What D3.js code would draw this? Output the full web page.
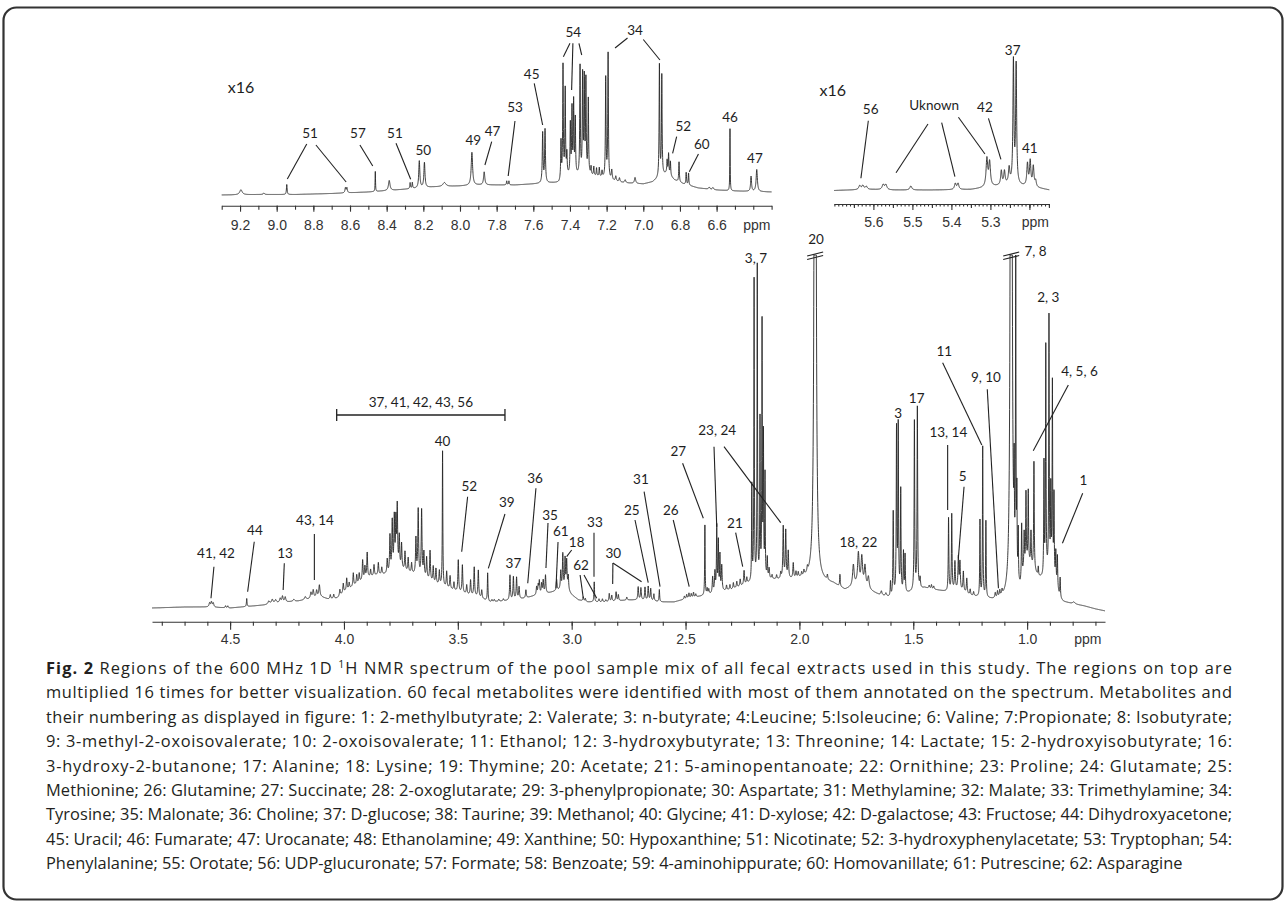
<!DOCTYPE html>
<html>
<head>
<meta charset="utf-8">
<script src="https://cdn.jsdelivr.net/npm/d3@7"></script>
<style>
body{margin:0;background:#fff;}
svg{display:block;}
text{white-space:pre;}
</style>
</head>
<body>
<svg id="fig" width="1287" height="906"></svg>
<script>
// Spectrum values. Peaks are [ppm, height above baseline, half width (ppm)],
// baselines are [ppm, height]. Heights of the main panel are in px above its zero line.

// main panel 4.84 - 0.66 ppm
var mainBase = [[4.843,4],[4.7,5],[4.6,5],[4.5,4],[4.45,5],[4.4,6],[4.35,7],[4.3,9],[4.2,11],[4.15,13],
  [4.1,15],[4.07,13],[4.03,14],[4.0,20],[3.95,27],[3.9,34],[3.85,37],[3.8,38],[3.75,42],[3.7,38],
  [3.65,34],[3.6,28],[3.55,24],[3.5,20],[3.45,17],[3.4,14],[3.36,10],[3.3,11],[3.25,12],[3.2,14],
  [3.15,17],[3.1,19],[3.05,22],[3.02,22],[3.0,17],[2.97,12],[2.93,10],[2.85,10],[2.8,11],[2.75,12],
  [2.7,12],[2.65,11],[2.6,10],[2.55,10],[2.5,13],[2.45,15],[2.4,17],[2.35,20],[2.3,22],[2.25,26],
  [2.2,30],[2.15,32],[2.1,32],[2.05,32],[2.0,33],[1.97,33],[1.9,30],[1.85,28],[1.8,22],[1.75,26],
  [1.7,22],[1.65,17],[1.6,14],[1.55,17],[1.5,20],[1.45,24],[1.4,22],[1.35,20],[1.3,22],[1.25,16],
  [1.2,14],[1.15,12],[1.1,12],[1.08,12],[1.04,18],[1.03,20],[1.015,38],[1.0,46],[0.985,46],[0.97,40],
  [0.95,34],[0.93,33],[0.91,38],[0.89,38],[0.875,28],[0.86,16],[0.85,12],[0.84,10],[0.8,8],[0.75,6],
  [0.7,3],[0.658,1]];

var mainPeaks = [
  [4.590,4,.003],[4.582,5,.003],[4.574,4,.003],[4.520,2,.002],[4.510,2,.002],[4.427,8,.0015],
  [4.330,3,.004],[4.315,4,.004],[4.300,3,.004],[4.280,4,.003],[4.270,6,.003],[4.258,5,.003],
  [4.220,2,.004],[4.170,3,.004],[4.145,6,.003],[4.135,8,.003],[4.120,7,.003],[4.108,12,.003],
  [4.060,4,.002],[4.045,4,.002],
  [4.018,6,.002],[4.003,9,.002],[3.988,12,.002],[3.977,6,.002],[3.959,13,.002],[3.944,9,.002],
  [3.933,9,.002],[3.918,20,.002],[3.908,12,.002],[3.898,25,.002],[3.883,7,.002],[3.868,11,.002],
  [3.849,12,.002],[3.834,7,.002],[3.810,14,.002],[3.798,37,.002],[3.788,50,.002],[3.779,52,.002],
  [3.772,48,.002],[3.766,62,.002],[3.757,32,.002],[3.747,25,.002],[3.732,19,.002],[3.718,14,.002],
  [3.703,10,.002],[3.684,36,.002],[3.674,66,.002],[3.659,66,.002],[3.649,24,.002],[3.637,21,.002],
  [3.622,30,.002],[3.608,16,.002],[3.596,15,.002],[3.581,14,.002],[3.567,135,.0013],[3.549,16,.002],
  [3.534,13,.002],[3.517,8,.002],[3.498,32,.002],[3.480,28,.002],[3.461,9,.002],[3.444,15,.002],
  [3.428,29,.002],[3.410,27,.002],[3.395,8,.002],[3.369,28,.0015],[3.350,2,.002],[3.340,2,.002],
  [3.320,2,.002],[3.300,2,.002],[3.271,25,.002],[3.256,23,.002],[3.242,22,.002],[3.231,12,.002],
  [3.201,8,.002],[3.154,8,.002],[3.147,9,.002],[3.142,13,.002],[3.132,10,.002],[3.125,13,.002],
  [3.115,18,.002],
  [3.066,11,.002],[3.048,18,.002],[3.039,35,.002],[3.029,30,.002],[3.022,28,.002],[3.015,14,.002],
  [2.949,4,.002],[2.940,3,.002],[2.901,20,.0015],[2.880,3,.002],[2.865,3,.002],[2.850,2,.002],
  [2.835,8,.002],[2.824,6,.002],[2.805,9,.002],[2.795,6,.002],[2.758,3,.002],[2.708,13,.002],
  [2.696,12,.002],[2.678,13,.002],[2.664,14,.002],[2.653,12,.002],[2.639,7,.002],[2.615,12,.0015],
  [2.505,3,.002],[2.495,4,.002],[2.485,5,.002],[2.475,4,.002],[2.465,5,.002],[2.455,3,.002],
  [2.415,70,.0012],[2.405,6,.002],[2.398,5,.002],[2.381,16,.002],[2.371,20,.002],[2.363,65,.0015],
  [2.356,50,.0015],[2.349,35,.0015],[2.341,25,.002],[2.320,5,.002],[2.305,5,.002],[2.290,6,.002],
  [2.275,6,.002],[2.260,7,.002],[2.243,14,.002],[2.231,6,.002],
  [2.209,95,.0012],[2.199,300,.0012],[2.185,313,.0012],[2.173,157,.0012],[2.164,260,.0012],
  [2.158,142,.0012],[2.151,102,.0012],[2.141,20,.0015],[2.133,10,.002],[2.120,4,.002],[2.100,4,.002],
  [2.082,6,.002],[2.071,52,.002],[2.060,48,.002],[2.049,27,.002],[2.027,15,.002],[2.015,6,.002],
  [2.005,5,.002],[1.990,4,.002],[1.980,5,.002],[1.965,5,.002],
  [1.931,3000,.0019],
  [1.877,5,.002],[1.822,12,.0015],[1.763,21,.004],[1.741,32,.004],[1.726,29,.004],[1.712,21,.004],
  [1.697,12,.004],[1.640,4,.003],[1.620,3,.003],
  [1.600,15,.0015],[1.588,85,.0015],[1.5735,165,.0015],[1.566,170,.0015],[1.555,103,.0015],
  [1.543,40,.0015],[1.536,38,.0015],
  [1.495,169,.0015],[1.482,185,.0015],[1.470,10,.002],[1.430,3,.002],[1.420,4,.002],[1.410,3,.002],
  [1.345,73,.0015],[1.331,76,.0015],[1.317,28,.002],[1.302,32,.002],[1.295,27,.002],[1.280,20,.002],
  [1.265,15,.002],[1.250,6,.002],[1.235,4,.002],
  [1.207,76,.0013],[1.195,150,.0013],[1.181,76,.0013],
  [1.140,5,.002],[1.130,6,.002],[1.120,6,.002],[1.110,5,.002],
  [1.070,2500,.0020],[1.057,85,.0012],[1.050,320,.0012],[1.045,80,.0012],[1.039,50,.0012],
  [1.024,55,.0015],[1.013,35,.0015],[1.005,72,.0015],[0.995,72,.0015],[0.983,32,.0015],[0.970,110,.0015],
  [0.951,9,.0015],[0.926,114,.0013],[0.918,232,.0013],[0.904,260,.0013],[0.896,82,.0013],[0.889,188,.0013],
  [0.882,81,.0013],[0.874,30,.0015],[0.867,32,.0015],[0.855,19,.0015],[0.795,2,.006]
];

// aromatic inset 9.3 - 6.3 ppm (x16)
var aroBase = [[9.30,3],[9.1,3.5],[8.9,3.5],[8.7,4.5],[8.5,6],[8.35,8],[8.15,11],[8.0,12],[7.9,13],
  [7.7,13],[7.6,14],[7.5,15],[7.46,15],[7.42,22],[7.36,22],[7.29,22],[7.25,21],[7.22,20],[7.17,17],
  [7.1,15],[7.0,14],[6.95,16],[6.87,25],[6.83,18],[6.78,14],[6.7,10],[6.6,8],[6.5,7],[6.3,6]];

var aroPeaks = [
  [9.195,5,.008],[9.07,1.5,.004],[8.945,10,.0022],[8.625,5,.003],[8.617,5,.003],[8.462,20,.0013],
  [8.386,10,.005],[8.272,6,.002],[8.260,6,.002],[8.222,27,.0035],[8.194,25,.0035],[8.085,4,.01],
  [7.935,33,.0045],[7.868,13,.004],[7.745,4,.002],[7.733,4,.002],[7.549,50,.0025],[7.536,53,.0025],
  [7.449,38,.002],[7.438,112,.002],[7.426,86,.002],[7.417,20,.002],[7.398,50,.002],[7.389,65,.002],
  [7.380,72,.002],[7.371,55,.002],[7.345,108,.002],[7.331,98,.002],[7.322,94,.002],[7.313,93,.002],
  [7.300,75,.002],[7.285,8,.002],[7.270,9,.002],[7.255,8,.002],[7.240,9,.002],[7.225,6,.002],
  [7.205,100,.002],[7.192,125,.002],[7.172,10,.003],[7.150,5,.003],[7.130,4,.003],[7.099,3,.004],
  [7.045,6,.004],[6.912,112,.002],[6.899,100,.002],[6.870,12,.002],[6.862,20,.002],[6.852,14,.002],
  [6.805,20,.002],[6.766,12,.002],[6.753,12,.002],[6.640,2,.004],[6.620,2,.004],[6.527,62,.0012],
  [6.412,15,.003],[6.381,22,.004]
];

// anomeric inset 5.70 - 5.15 ppm (x16)
var anoBase = [[5.701,1.5],[5.66,2],[5.6,2.5],[5.55,2],[5.45,2],[5.35,2.5],[5.32,4],[5.28,6],
  [5.25,8],[5.22,6],[5.18,4],[5.149,2]];

var anoPeaks = [
  [5.635,4,.003],[5.627,4,.003],[5.618,3,.003],[5.575,5,.003],[5.568,5,.003],[5.504,4,.003],
  [5.390,6,.0025],[5.383,6,.0025],[5.309,28,.0025],[5.302,24,.0025],[5.272,14,.002],[5.264,13,.002],
  [5.252,15,.002],[5.241,122,.0015],[5.234,118,.0015],[5.205,22,.002],[5.198,25,.002],[5.190,20,.002],
  [5.184,6,.002]
];

// tick values
var mainMajor = [4.5,4.0,3.5,3.0,2.5,2.0,1.5,1.0];
var mainMinor = d3.range(48, 6, -1).map(function(v){ return v/10; });
var aroMajor = d3.range(92, 65, -2).map(function(v){ return v/10; });
var aroMinor = d3.range(93, 62, -1).map(function(v){ return v/10; });
var anoMajor = [5.6,5.5,5.4,5.3];
var anoMid = [5.65,5.55,5.45,5.35,5.25,5.2,5.15];
var anoMinor = d3.range(570, 514, -1).map(function(v){ return v/100; });

// annotations: [text, ppm, height] and leaders [ppm1, h1, ppm2, h2]
var mainLabels = [["41, 42",4.562,58.7],["44",4.391,82],["13",4.259,58.7],["43, 14",4.127,92],
  ["40",3.567,170.3],["52",3.450,125.3],["39",3.285,109.3],["37",3.256,48.7],["36",3.161,133.7],
  ["35",3.095,97],["61",3.048,80.3],["18",2.978,70],["62",2.959,46.3],["33",2.898,89.3],["30",2.817,59],
  ["25",2.736,102],["31",2.696,133],["26",2.565,102],["27",2.532,160.3],["23, 24",2.361,181.3],
  ["21",2.283,88.7],["3, 7",2.191,354],["20",1.927,372.7],["18, 22",1.741,69.7],["3",1.566,198.7],
  ["17",1.485,214],["13, 14",1.346,179.7],["5",1.283,136],["11",1.364,260.3],["9, 10",1.181,234.7],
  ["7, 8",0.963,360.3],["2, 3",0.907,314.7],["4, 5, 6",0.770,241],["1",0.753,132]];
var mainLeaders = [[4.571,45.3,4.584,13.7],[4.394,70.3,4.423,20.3],[4.262,48.7,4.267,22],[4.130,78,4.130,32],
  [3.457,115.3,3.483,60.3],[3.293,98,3.366,43.7],[3.157,123.7,3.193,28.7],[3.104,89,3.113,44],
  [3.060,70,3.069,23.7],[3.000,62,3.022,55.3],[2.963,37,2.949,13.7],[2.946,37,2.890,13.7],
  [2.902,79.3,2.902,35.3],[2.819,49,2.820,28],[2.819,49,2.693,30.3],[2.722,92,2.664,29.3],
  [2.682,120.3,2.612,25.3],[2.554,92,2.484,25.3],[2.513,148.7,2.422,93.7],[2.375,165.3,2.363,85.3],
  [2.331,165.3,2.082,89.3],[2.280,79.3,2.249,45.3],[1.349,167,1.349,102],[1.277,125.3,1.302,53.7],
  [1.371,249.3,1.199,167],[1.175,222.7,1.126,23.7],[0.819,227,0.973,161.3],[0.756,118.7,0.845,68.7]];
var sugarRange = ["37, 41, 42, 43, 56", 4.032, 3.293, 197];
var breakPeaks = [1.931, 1.070];

var aroLabels = [["51",8.818,65],["57",8.557,65],["51",8.355,65],["50",8.200,48],["49",7.927,58],
  ["47",7.822,66.3],["53",7.700,90.7],["45",7.609,124],["54",7.382,165.7],["34",7.045,167.3],
  ["52",6.782,71.5],["60",6.681,53.7],["46",6.527,80.3],["47",6.391,39.7]];
var aroLeaders = [[8.836,54,8.942,19],[8.786,53,8.621,16],[8.546,53,8.476,32],[8.349,54.7,8.269,18.7],
  [7.827,56.3,7.864,33],[7.700,77,7.737,22],[7.595,114.7,7.549,73],[7.400,154.7,7.436,141.3],
  [7.384,154.7,7.391,108],[7.351,154.7,7.336,143],[7.086,160,7.154,150],[7.000,158.5,6.909,138],
  [6.818,61.3,6.840,44.7],[6.699,44,6.749,26.3]];

var anoLabels = [["56",5.607,83],["Uknown",5.444,87],["42",5.314,84.7],["37",5.243,142],["41",5.199,43.7]];
var anoLeaders = [[5.613,71.3,5.632,13.7],[5.460,68,5.542,19.3],[5.425,69.3,5.391,15.3],
  [5.382,74.7,5.314,38],[5.305,73.7,5.273,32.7]];

var gainText = "x16";

var capTitle = "Fig. 2";
var capLead = " Regions of the 600 MHz 1D ";
var capSup = "1";
var capRest = "H NMR spectrum of the pool sample mix of all fecal extracts used in this study. The regions on top are";
var capLines = [
  "multiplied 16 times for better visualization. 60 fecal metabolites were identified with most of them annotated on the spectrum. Metabolites and",
  "their numbering as displayed in figure: 1: 2-methylbutyrate; 2: Valerate; 3: n-butyrate; 4:Leucine; 5:Isoleucine; 6: Valine; 7:Propionate; 8: Isobutyrate;",
  "9: 3-methyl-2-oxoisovalerate; 10: 2-oxoisovalerate; 11: Ethanol; 12: 3-hydroxybutyrate; 13: Threonine; 14: Lactate; 15: 2-hydroxyisobutyrate; 16:",
  "3-hydroxy-2-butanone; 17: Alanine; 18: Lysine; 19: Thymine; 20: Acetate; 21: 5-aminopentanoate; 22: Ornithine; 23: Proline; 24: Glutamate; 25:",
  "Methionine; 26: Glutamine; 27: Succinate; 28: 2-oxoglutarate; 29: 3-phenylpropionate; 30: Aspartate; 31: Methylamine; 32: Malate; 33: Trimethylamine; 34:",
  "Tyrosine; 35: Malonate; 36: Choline; 37: D-glucose; 38: Taurine; 39: Methanol; 40: Glycine; 41: D-xylose; 42: D-galactose; 43: Fructose; 44: Dihydroxyacetone;",
  "45: Uracil; 46: Fumarate; 47: Urocanate; 48: Ethanolamine; 49: Xanthine; 50: Hypoxanthine; 51: Nicotinate; 52: 3-hydroxyphenylacetate; 53: Tryptophan; 54:",
  "Phenylalanine; 55: Orotate; 56: UDP-glucuronate; 57: Formate; 58: Benzoate; 59: 4-aminohippurate; 60: Homovanillate; 61: Putrescine; 62: Asparagine"
];

var ink = "#262626";
var labelFont = "Lato, 'Open Sans', sans-serif";
var tickFont = "'Liberation Sans', Arial, sans-serif";

var svg = d3.select("#fig");

// rounded frame around the figure
svg.append("rect")
  .attr("x", 3.5).attr("y", 7.5).attr("width", 1279).attr("height", 892).attr("rx", 13)
  .attr("fill", "none").attr("stroke", "#333").attr("stroke-width", 2.2);

// scales of the three panels
var xMain = d3.scaleLinear().domain([4.843, 0.658]).range([152, 1105]);
var yMain = d3.scaleLinear().domain([0, 360]).range([612, 252]);
var xAro = d3.scaleLinear().domain([9.30, 6.30]).range([221.7, 771.6]);
var yAro = d3.scaleLinear().domain([0, 170]).range([198, 28]);
var xAno = d3.scaleLinear().domain([5.701, 5.149]).range([834, 1049.3]);
var yAno = d3.scaleLinear().domain([0, 150]).range([192, 42]);

// sum of lorentzian lines on top of the read baseline
function spectrum(peaks, base, from, to, step, cap) {
  var b = d3.scaleLinear().domain(base.map(function(d){ return d[0]; }))
    .range(base.map(function(d){ return d[1]; })).clamp(true);
  var n = Math.round((from - to) / step), pts = [];
  for (var i = 0; i <= n; i++) {
    var p = from - i * step, v = b(p);
    for (var k = 0; k < peaks.length; k++) {
      var d = p - peaks[k][0], w = peaks[k][2];
      v += peaks[k][1] * w * w / (w * w + d * d);
    }
    if (cap && v > cap) v = cap;
    pts.push([p, v]);
  }
  return pts;
}

function drawCurve(pts, x, y) {
  svg.append("path")
    .datum(pts)
    .attr("fill", "none")
    .attr("stroke", ink)
    .attr("stroke-width", 0.9)
    .attr("stroke-linejoin", "round")
    .attr("d", d3.line().x(function(d){ return x(d[0]); }).y(function(d){ return y(d[1]); }));
}

drawCurve(spectrum(mainPeaks, mainBase, 4.843, 0.658, 0.0004, 357), xMain, yMain);
drawCurve(spectrum(aroPeaks, aroBase, 9.30, 6.30, 0.0005), xAro, yAro);
drawCurve(spectrum(anoPeaks, anoBase, 5.701, 5.149, 0.0002), xAno, yAno);

// axes: short ticks every step, longer labelled ticks
function ppmAxis(x, yPos, minor, minorLen, mid, midLen, major, majorLen, pad, labelled) {
  var g = svg.append("g").attr("transform", "translate(0," + yPos + ")");
  g.append("g").call(d3.axisBottom(x).tickValues(minor).tickSizeInner(minorLen).tickSizeOuter(0).tickFormat(""));
  if (mid) {
    var gm = g.append("g").call(d3.axisBottom(x).tickValues(mid).tickSizeInner(midLen).tickSizeOuter(0).tickFormat(""));
    gm.select(".domain").remove();
  }
  var gM = g.append("g").call(d3.axisBottom(x).tickValues(major).tickSizeInner(majorLen).tickSizeOuter(0)
    .tickPadding(pad).tickFormat(function(d){ return labelled.indexOf(d) >= 0 ? d3.format(".1f")(d) : ""; }));
  gM.select(".domain").remove();
  g.selectAll("path, line").attr("stroke", "#333").attr("stroke-width", 1.1);
  g.selectAll("text").attr("font-family", tickFont).attr("font-size", 14).attr("fill", "#333");
  return g;
}

ppmAxis(xMain, 621.7, mainMinor, 4, null, 0, mainMajor, 8, 4.3, mainMajor);
ppmAxis(xAro, 205.7, aroMinor, 4, null, 0, aroMajor, 6, 8, aroMajor);
ppmAxis(xAno, 204, anoMinor, 2.5, anoMid, 4, anoMajor.concat([5.2]), 6, 7, anoMajor);

// ppm unit labels
var units = [[xMain(0.733), 621.7 + 22.3], [xAro(6.381), 205.7 + 24], [xAno(5.185), 204 + 23]];
svg.selectAll(".unit").data(units).enter().append("text")
  .attr("x", function(d){ return d[0]; }).attr("y", function(d){ return d[1]; })
  .attr("text-anchor", "middle").attr("font-family", tickFont).attr("font-size", 14).attr("fill", "#333")
  .text("ppm");

// leader lines and numbers
function annotate(labels, leaders, x, y) {
  svg.append("g").selectAll("line").data(leaders).enter().append("line")
    .attr("x1", function(d){ return x(d[0]); }).attr("y1", function(d){ return y(d[1]); })
    .attr("x2", function(d){ return x(d[2]); }).attr("y2", function(d){ return y(d[3]); })
    .attr("stroke", "#222").attr("stroke-width", 1.1);
  svg.append("g").selectAll("text").data(labels).enter().append("text")
    .attr("x", function(d){ return x(d[1]); }).attr("y", function(d){ return y(d[2]); })
    .attr("dy", "0.35em").attr("text-anchor", "middle")
    .attr("font-family", labelFont).attr("font-size", 13.5).attr("fill", "#1e1e1e")
    .text(function(d){ return d[0]; });
}
annotate(mainLabels, mainLeaders, xMain, yMain);
annotate(aroLabels, aroLeaders, xAro, yAro);
annotate(anoLabels, anoLeaders, xAno, yAno);

// x16 gain marks
[[xAro(9.195), yAro(111)], [xAno(5.704), yAno(102)]].forEach(function(p){
  svg.append("text").attr("x", p[0]).attr("y", p[1]).attr("dy", "0.35em").attr("text-anchor", "middle")
    .attr("font-family", labelFont).attr("font-size", 16).attr("fill", "#1e1e1e").text(gainText);
});

// bracket over the sugar region
var br = svg.append("g").attr("stroke", "#222").attr("stroke-width", 1.3);
br.append("line").attr("x1", xMain(sugarRange[1])).attr("x2", xMain(sugarRange[2]))
  .attr("y1", yMain(sugarRange[3])).attr("y2", yMain(sugarRange[3]));
[sugarRange[1], sugarRange[2]].forEach(function(p){
  br.append("line").attr("x1", xMain(p)).attr("x2", xMain(p))
    .attr("y1", yMain(sugarRange[3] + 6)).attr("y2", yMain(sugarRange[3] - 6));
});
svg.append("text").attr("x", xMain((sugarRange[1] + sugarRange[2]) / 2)).attr("y", yMain(sugarRange[3] + 12.3))
  .attr("dy", "0.35em").attr("text-anchor", "middle").attr("font-family", labelFont)
  .attr("font-size", 13.5).attr("fill", "#1e1e1e").text(sugarRange[0]);

// break marks on the two cut peaks
breakPeaks.forEach(function(p){
  var cx = xMain(p), cy = yMain(358);
  [0, 3.5].forEach(function(o){
    svg.append("line").attr("x1", cx - 8).attr("y1", cy + 2 + o).attr("x2", cx + 8).attr("y2", cy - 2 + o)
      .attr("stroke", "#222").attr("stroke-width", 1.2);
  });
});

// caption, justified like the journal layout
var capX = 46, capW = 1186, capY0 = 674, capDy = 24.4, capSize = 15;
var cap = svg.append("g").attr("font-family", "'Open Sans', 'Noto Sans', sans-serif").attr("fill", "#231f20");
var capTexts = [];
var t0 = cap.append("text").attr("x", capX).attr("y", capY0).attr("font-size", capSize);
t0.append("tspan").attr("font-weight", "bold").text(capTitle);
t0.append("tspan").text(capLead);
t0.append("tspan").attr("font-size", "0.65em").attr("dy", "-0.55em").text(capSup);
t0.append("tspan").attr("dy", "0.36em").text(capRest);
capTexts.push(t0);
capLines.forEach(function(line, i){
  capTexts.push(cap.append("text").attr("x", capX).attr("y", capY0 + (i + 1) * capDy)
    .attr("font-size", capSize).text(line));
});
var widest = d3.max(capTexts.slice(0, -1), function(t){ return t.node().getComputedTextLength(); });
var fit = Math.max(13, Math.min(17, capSize * capW / widest * 0.995));
capTexts.forEach(function(t){ t.attr("font-size", fit); });
capTexts.slice(0, -1).forEach(function(t){ t.attr("textLength", capW).attr("lengthAdjust", "spacing"); });
</script>
</body>
</html>
